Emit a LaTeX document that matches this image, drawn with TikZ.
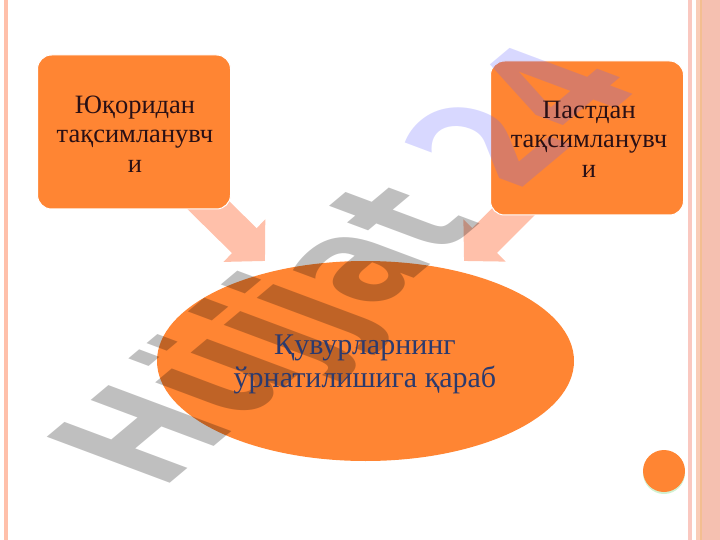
\documentclass[tikz,border=0pt]{standalone}
\usepackage{fontspec}
\setmainfont{Liberation Serif}
\newfontfamily\markfont[LetterSpace=0.5]{DejaVu Sans}
\usetikzlibrary{arrows.meta,backgrounds,shapes.geometric}
\definecolor{boxfill}{HTML}{FF8533}
\definecolor{arrowfill}{HTML}{FFC0AA}
\definecolor{stripe}{HTML}{F5C0B0}
\definecolor{stripeedge}{HTML}{FAC8C0}
\definecolor{stripepale}{HTML}{F9CDB8}
\definecolor{stripeline}{HTML}{F3BE90}
\definecolor{darktext}{HTML}{2A1015}
\definecolor{bluetext}{HTML}{2B3A6E}
\definecolor{marknum}{HTML}{6464FF}
\tikzset{
	choicebox/.style={draw=white, line width=1pt, fill=boxfill, rounded corners=14pt, minimum width=193pt, minimum height=154pt},
	rootshape/.style={ellipse, fill=boxfill, minimum width=417pt, minimum height=200pt, inner sep=0pt},
	boxtext/.style={align=center, font=\fontsize{26.5}{29.5}\selectfont, text=darktext},
	roottext/.style={align=center, font=\fontsize{30}{33}\selectfont, text=bluetext},
	blockarrow/.style={arrowfill, line width=35pt, -{Triangle[length=29pt,width=58pt]}},
	markletters/.style={font=\markfont\bfseries\fontsize{100}{100}\selectfont, anchor=base west, inner sep=0pt, outer sep=0pt, transform shape, opacity=.25}
}
\begin{document}
\begin{tikzpicture}[x=1pt,y=-1pt]
	\useasboundingbox (0,0) rectangle (720,540);

	% page frame
	\fill[arrowfill] (4,0) rectangle (8,540);
	\fill[stripeedge] (688,0) rectangle (692,540);
	\fill[stripepale] (696,0) rectangle (700,540);
	\fill[stripeline] (700,0) rectangle (702,540);
	\fill[stripe] (702,0) rectangle (720,540);

	% shapes
	\node[choicebox] (upper) at (134,132) {};
	\node[choicebox] (lower) at (587,138) {};
	\node[rootshape] (root) at (365.5,361) {};
	\fill[black!30!green!30, opacity=.6] (664,473) circle (21);
	\node[circle, fill=boxfill, minimum size=42pt, inner sep=0pt] (dot) at (664,471) {};

	\coordinate (uppertip) at (265,261);
	\coordinate (lowertip) at (464,261);
	\begin{scope}[on background layer]
		\draw[blockarrow] (upper.center) -- (uppertip);
		\draw[blockarrow] (lower.center) -- (lowertip);
	\end{scope}

	% watermark
	\begin{scope}[cm={.944,.791,-1.687,.631,(161.3,490.3)}]
		\node[markletters, text=black] (markword) at (0,0) {Hüjjat};
		\node[markletters, text=marknum, xshift=34pt] (marknumber) at (markword.base east) {24};
	\end{scope}

	% labels
	\node[boxtext] (uppertext) at (135,134) {Юқоридан\\тақсимланувч\\и};
	\node[boxtext] (lowertext) at (589,139) {Пастдан\\тақсимланувч\\и};
	\node[roottext] (rootlabel) at (365,364) {Қувурларнинг\\ўрнатилишига қараб};
\end{tikzpicture}
\end{document}
